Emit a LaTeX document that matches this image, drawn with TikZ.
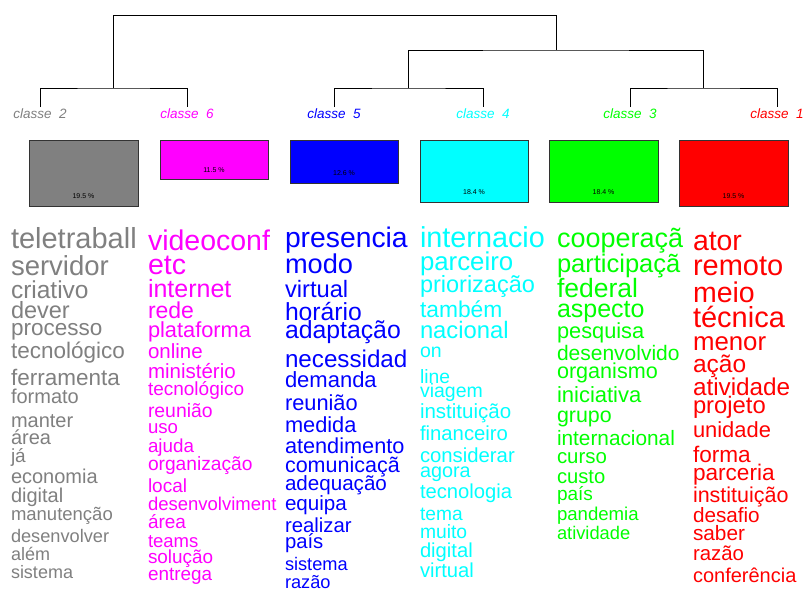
\documentclass[tikz,border=0pt]{standalone}
\usepackage{fontspec}
\setmainfont{Liberation Sans}
\definecolor{cgray}{RGB}{128,128,128}
\definecolor{cmag}{RGB}{255,0,255}
\definecolor{cblue}{RGB}{0,0,255}
\definecolor{ccyan}{RGB}{0,255,255}
\definecolor{cgreen}{RGB}{0,255,0}
\definecolor{cred}{RGB}{255,0,0}
\tikzset{
  w/.style={anchor=base west, inner sep=0pt, outer sep=0pt},
  dend/.style={draw=black, line width=0.8pt},
  clsbox/.style={draw=black!80, line width=0.8pt},
  clslab/.style={anchor=base, inner sep=0pt, font=\fontsize{13.5}{13.5}\selectfont\itshape},
  pct/.style={anchor=base, inner sep=0pt, font=\fontsize{7}{7}\selectfont, text=black}
}
\newcommand{\wrd}[5]{\node[w, font=\fontsize{#4}{#4}\selectfont] (#1) at (#2,#3) {#5};}
\begin{document}
\begin{tikzpicture}[x=1pt,y=-1pt]
\useasboundingbox (0,0) rectangle (805,589);
\fill[white] (0,0) rectangle (805,589);
% dendrogram coordinates
\coordinate (l2) at (40,107);
\coordinate (l6) at (187,107);
\coordinate (l5) at (334,107);
\coordinate (l4) at (483,107);
\coordinate (l3) at (630,107);
\coordinate (l1) at (777,107);
\coordinate (m26) at (113.5,88);
\coordinate (m54) at (408.5,88);
\coordinate (m31) at (703.5,88);
\coordinate (m5431) at (556,50);
\draw[dend] (l2) |- (m26) -| (l6);
\draw[dend] (l5) |- (m54) -| (l4);
\draw[dend] (l3) |- (m31) -| (l1);
\draw[dend] (m54) |- (m5431) -| (m31);
\draw[dend] (m26) |- (113.5,15) -- (556,15) -- (m5431);
% class labels
\node[clslab, text=cgray] (c2) at (40,118) {classe\ \ 2};
\node[clslab, text=cmag] (c6) at (187,118) {classe\ \ 6};
\node[clslab, text=cblue] (c5) at (334,118) {classe\ \ 5};
\node[clslab, text=ccyan] (c4) at (483,118) {classe\ \ 4};
\node[clslab, text=cgreen] (c3) at (630,118) {classe\ \ 3};
\node[clslab, text=cred] (c1) at (777,118) {classe\ \ 1};
% boxes
\draw[clsbox, fill=cgray] (29,140) rectangle (138,206);
\node[pct] (p2) at (83.5,198) {19.5 \%};
\draw[clsbox, fill=cmag] (160,140) rectangle (268,179);
\node[pct] (p6) at (214,172) {11.5 \%};
\draw[clsbox, fill=cblue] (290,140) rectangle (398,183);
\node[pct] (p5) at (344,175) {12.6 \%};
\draw[clsbox, fill=ccyan] (420,140) rectangle (528,202);
\node[pct] (p4) at (474,194) {18.4 \%};
\draw[clsbox, fill=cgreen] (549,140) rectangle (658,202);
\node[pct] (p3) at (603.5,194) {18.4 \%};
\draw[clsbox, fill=cred] (679,140) rectangle (788,206);
\node[pct] (p1) at (733.5,198) {19.5 \%};
% gray column
\begin{scope}[text=cgray]
\wrd{g1}{11}{248}{29}{teletraball}
\wrd{g2}{11}{275}{27.5}{servidor}
\wrd{g3}{11}{298}{24.5}{criativo}
\wrd{g4}{11}{318}{23.5}{dever}
\wrd{g5}{11}{335}{22.5}{processo}
\wrd{g6}{11}{358}{22.5}{tecnológico}
\wrd{g7}{11}{385}{22.5}{ferramenta}
\wrd{g8}{11}{403}{20}{formato}
\wrd{g9}{11}{427}{20}{manter}
\wrd{g10}{11}{444}{20}{área}
\wrd{g11}{11}{462}{19}{já}
\wrd{g12}{11}{483}{20}{economia}
\wrd{g13}{11}{502}{20}{digital}
\wrd{g14}{11}{520}{18.5}{manutenção}
\wrd{g15}{11}{542}{18.2}{desenvolver}
\wrd{g16}{11}{560}{18}{além}
\wrd{g17}{11}{578}{18}{sistema}
\end{scope}
% magenta column
\begin{scope}[text=cmag]
\wrd{m1}{148}{250}{28.5}{videoconf}
\wrd{m2}{148}{274}{28.5}{etc}
\wrd{m3}{148}{297}{25}{internet}
\wrd{m4}{148}{318}{23}{rede}
\wrd{m5}{148}{337}{21.8}{plataforma}
\wrd{m6}{148}{358}{20.5}{online}
\wrd{m7}{148}{378}{20.5}{ministério}
\wrd{m8}{148}{395}{19}{tecnológico}
\wrd{m9}{148}{417}{19.4}{reunião}
\wrd{m10}{148}{433}{18.6}{uso}
\wrd{m11}{148}{452}{18.8}{ajuda}
\wrd{m12}{148}{470}{19.2}{organização}
\wrd{m13}{148}{492}{19}{local}
\wrd{m14}{148}{510}{18.5}{desenvolviment}
\wrd{m15}{148}{528}{19}{área}
\wrd{m16}{148}{547}{18.5}{teams}
\wrd{m17}{148}{563}{18.9}{solução}
\wrd{m18}{148}{580}{18.9}{entrega}
\end{scope}
% blue column
\begin{scope}[text=cblue]
\wrd{b1}{285}{247}{28.3}{presencia}
\wrd{b2}{285}{273}{27.2}{modo}
\wrd{b3}{285}{297}{23.7}{virtual}
\wrd{b4}{285}{320}{24.7}{horário}
\wrd{b5}{285}{338}{24.8}{adaptação}
\wrd{b6}{285}{367}{24.2}{necessidad}
\wrd{b7}{285}{387}{22}{demanda}
\wrd{b8}{285}{410}{21.8}{reunião}
\wrd{b9}{285}{432}{21.8}{medida}
\wrd{b10}{285}{453}{21.7}{atendimento}
\wrd{b11}{285}{472}{21.5}{comunicaçã}
\wrd{b12}{285}{490}{20.6}{adequação}
\wrd{b13}{285}{510}{20.6}{equipa}
\wrd{b14}{285}{532}{20.3}{realizar}
\wrd{b15}{285}{548}{20.3}{país}
\wrd{b16}{285}{570}{18.2}{sistema}
\wrd{b17}{285}{588}{18.2}{razão}
\end{scope}
% cyan column
\begin{scope}[text=ccyan]
\wrd{y1}{420}{247}{28.8}{internacio}
\wrd{y2}{420}{270}{25.8}{parceiro}
\wrd{y3}{420}{292}{23.5}{priorização}
\wrd{y4}{420}{317}{22.8}{também}
\wrd{y5}{420}{338}{23.8}{nacional}
\wrd{y6}{420}{357}{19.5}{on}
\wrd{y7}{420}{383}{19.3}{line}
\wrd{y8}{420}{397}{19.5}{viagem}
\wrd{y9}{420}{418}{20.5}{instituição}
\wrd{y10}{420}{440}{20.3}{financeiro}
\wrd{y11}{420}{462}{20.3}{considerar}
\wrd{y12}{420}{477}{19.8}{agora}
\wrd{y13}{420}{498}{20.2}{tecnologia}
\wrd{y14}{420}{520}{19.2}{tema}
\wrd{y15}{420}{538}{19.3}{muito}
\wrd{y16}{420}{557}{20.2}{digital}
\wrd{y17}{420}{577}{20.2}{virtual}
\end{scope}
% green column
\begin{scope}[text=cgreen]
\wrd{v1}{557}{247}{27}{cooperaçã}
\wrd{v2}{557}{272}{25.5}{participaçã}
\wrd{v3}{557}{297}{26.5}{federal}
\wrd{v4}{557}{317}{25}{aspecto}
\wrd{v5}{557}{338}{21.8}{pesquisa}
\wrd{v6}{557}{360}{21}{desenvolvido}
\wrd{v7}{557}{378}{21.6}{organismo}
\wrd{v8}{557}{402}{22}{iniciativa}
\wrd{v9}{557}{422}{21.4}{grupo}
\wrd{v10}{557}{445}{20.8}{internacional}
\wrd{v11}{557}{463}{20.4}{curso}
\wrd{v12}{557}{483}{20.2}{custo}
\wrd{v13}{557}{500}{19}{país}
\wrd{v14}{557}{520}{18.6}{pandemia}
\wrd{v15}{557}{539}{18.3}{atividade}
\end{scope}
% red column
\begin{scope}[text=cred]
\wrd{r1}{693}{250}{28.4}{ator}
\wrd{r2}{693}{275}{29}{remoto}
\wrd{r3}{693}{302}{28.5}{meio}
\wrd{r4}{693}{327}{29}{técnica}
\wrd{r5}{693}{350}{25.8}{menor}
\wrd{r6}{693}{372}{24.5}{ação}
\wrd{r7}{693}{395}{24.3}{atividade}
\wrd{r8}{693}{413}{23.8}{projeto}
\wrd{r9}{693}{437}{21.9}{unidade}
\wrd{r10}{693}{462}{22.6}{forma}
\wrd{r11}{693}{480}{22.6}{parceria}
\wrd{r12}{693}{502}{21.5}{instituição}
\wrd{r13}{693}{522}{20.7}{desafio}
\wrd{r14}{693}{540}{20.8}{saber}
\wrd{r15}{693}{560}{20.4}{razão}
\wrd{r16}{693}{582}{20}{conferência}
\end{scope}
\end{tikzpicture}
\end{document}
